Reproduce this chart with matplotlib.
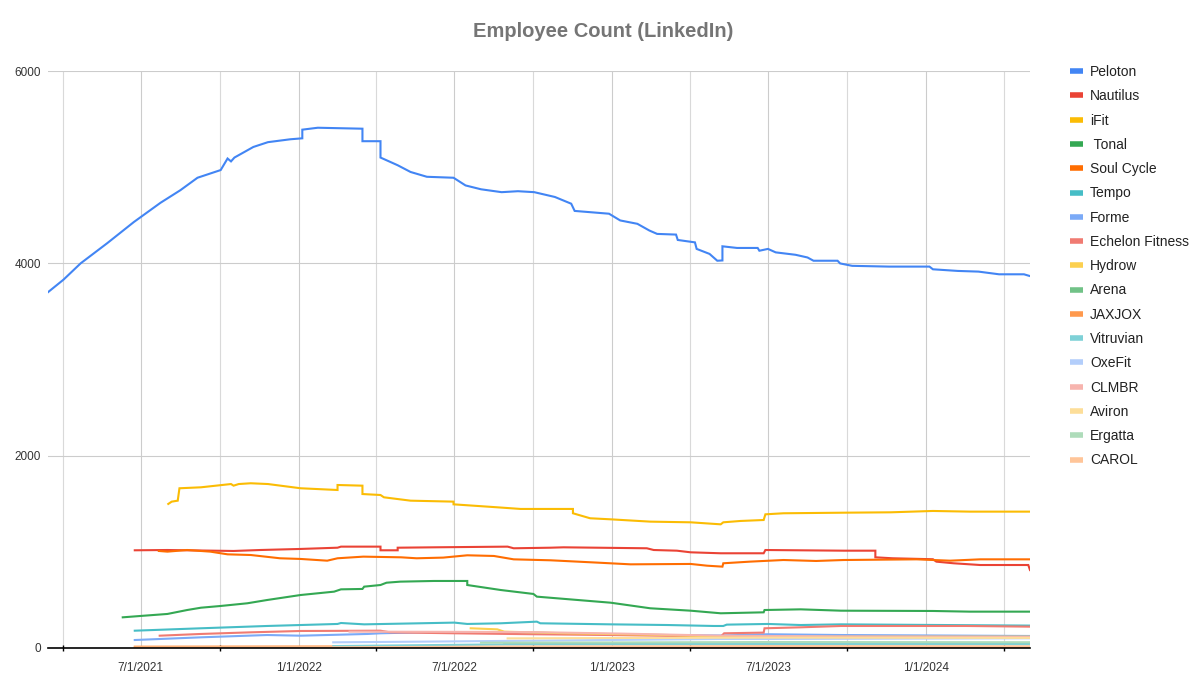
import numpy as np
import pandas as pd
import matplotlib
matplotlib.use('Agg')
import matplotlib.pyplot as plt
import matplotlib.dates as mdates

plt.rcParams['font.family'] = ['Liberation Sans', 'DejaVu Sans']

# series data (repeated dates = step jumps)
peloton_dates = ['2021-03-15', '2021-04-02', '2021-04-22', '2021-05-23', '2021-06-23', '2021-07-24',
                 '2021-08-16', '2021-09-05', '2021-10-02', '2021-10-10', '2021-10-14', '2021-10-18',
                 '2021-11-09', '2021-11-26', '2021-12-22', '2022-01-05', '2022-01-05', '2022-01-23',
                 '2022-03-16', '2022-03-16', '2022-04-06', '2022-04-06', '2022-04-26', '2022-05-11',
                 '2022-05-30', '2022-06-30', '2022-07-14', '2022-08-01', '2022-08-25', '2022-09-13',
                 '2022-10-02', '2022-10-26', '2022-11-14', '2022-11-18', '2022-12-28', '2023-01-10',
                 '2023-01-30', '2023-02-13', '2023-02-22', '2023-03-16', '2023-03-18', '2023-04-07',
                 '2023-04-09', '2023-04-24', '2023-05-03', '2023-05-09', '2023-05-09', '2023-05-26',
                 '2023-06-19', '2023-06-21', '2023-07-01', '2023-07-10', '2023-08-02', '2023-08-16',
                 '2023-08-23', '2023-09-20', '2023-09-23', '2023-10-07', '2023-11-19', '2024-01-05',
                 '2024-01-09', '2024-02-07', '2024-03-02', '2024-03-26', '2024-04-24', '2024-04-30']
peloton_vals = [3700, 3830, 4000, 4210, 4430, 4630,
                4760, 4890, 4970, 5090, 5060, 5100,
                5210, 5260, 5290, 5300, 5390, 5410,
                5400, 5270, 5270, 5100, 5020, 4950,
                4900, 4890, 4810, 4770, 4740, 4750,
                4740, 4690, 4620, 4545, 4516, 4446,
                4411, 4341, 4306, 4299, 4243, 4218,
                4150, 4098, 4027, 4030, 4177, 4160,
                4160, 4131, 4150, 4114, 4089, 4061,
                4027, 4027, 3999, 3974, 3966, 3966,
                3938, 3921, 3914, 3886, 3886, 3870]

nautilus_dates = ['2021-06-24', '2021-08-01', '2021-10-17', '2021-11-17', '2022-01-03', '2022-02-15',
                  '2022-02-19', '2022-04-06', '2022-04-06', '2022-04-26', '2022-04-26', '2022-06-07',
                  '2022-09-01', '2022-09-08', '2022-10-21', '2022-11-05', '2023-02-10', '2023-02-18',
                  '2023-03-17', '2023-04-02', '2023-05-07', '2023-06-26', '2023-06-28', '2023-09-27',
                  '2023-11-03', '2023-11-03', '2023-11-23', '2024-01-09', '2024-01-13', '2024-02-02',
                  '2024-03-04', '2024-04-29', '2024-05-01']
nautilus_vals = [1016, 1019, 1009, 1019, 1030, 1043,
                 1054, 1054, 1016, 1016, 1043, 1047,
                 1054, 1037, 1043, 1047, 1037, 1019,
                 1012, 995, 985, 985, 1019, 1012,
                 1012, 943, 933, 923, 898, 881,
                 863, 863, 811]

ifit_dates = ['2021-08-02', '2021-08-06', '2021-08-13', '2021-08-15', '2021-09-09', '2021-10-14',
              '2021-10-17', '2021-10-23', '2021-11-06', '2021-11-26', '2022-01-03', '2022-02-15',
              '2022-02-15', '2022-03-16', '2022-03-16', '2022-04-06', '2022-04-10', '2022-05-11',
              '2022-06-30', '2022-06-30', '2022-08-20', '2022-09-16', '2022-11-16', '2022-11-16',
              '2022-12-06', '2022-12-30', '2023-02-14', '2023-04-02', '2023-05-07', '2023-05-10',
              '2023-05-30', '2023-06-26', '2023-06-28', '2023-07-19', '2023-09-27', '2023-11-21',
              '2024-01-09', '2024-02-21', '2024-04-30']
ifit_vals = [1498, 1522, 1532, 1661, 1671, 1705,
             1688, 1705, 1713, 1705, 1661, 1643,
             1695, 1688, 1601, 1591, 1567, 1532,
             1522, 1494, 1463, 1446, 1446, 1401,
             1349, 1338, 1314, 1307, 1286, 1307,
             1321, 1331, 1390, 1401, 1407, 1411,
             1425, 1418, 1418]

tonal_dates = ['2021-06-10', '2021-07-05', '2021-08-01', '2021-08-24', '2021-09-09', '2021-10-02',
               '2021-11-02', '2021-11-25', '2022-01-03', '2022-02-11', '2022-02-19', '2022-03-16',
               '2022-03-18', '2022-04-06', '2022-04-13', '2022-04-29', '2022-06-07', '2022-07-16',
               '2022-07-16', '2022-08-24', '2022-10-01', '2022-10-05', '2022-12-30', '2023-02-14',
               '2023-04-02', '2023-05-07', '2023-06-26', '2023-06-27', '2023-08-08', '2023-09-24',
               '2024-01-09', '2024-02-21', '2024-04-30']
tonal_vals = [319, 336, 354, 395, 419, 437,
              465, 499, 551, 586, 610, 614,
              638, 655, 679, 690, 697, 697,
              655, 603, 562, 534, 471, 413,
              388, 361, 371, 395, 402, 388,
              385, 378, 378]

soulcycle_dates = ['2021-07-22', '2021-08-01', '2021-08-24', '2021-09-20', '2021-10-10', '2021-11-06',
                   '2021-12-10', '2022-01-03', '2022-02-03', '2022-02-15', '2022-03-17', '2022-04-30',
                   '2022-05-18', '2022-06-18', '2022-07-16', '2022-08-16', '2022-09-08', '2022-10-21',
                   '2022-12-14', '2023-01-22', '2023-04-02', '2023-04-21', '2023-05-09', '2023-05-10',
                   '2023-06-10', '2023-07-19', '2023-08-26', '2023-09-27', '2023-12-21', '2024-01-29',
                   '2024-03-04', '2024-04-30']
soulcycle_vals = [1009, 1002, 1019, 1002, 974, 967,
                  933, 926, 908, 933, 950, 943,
                  933, 940, 964, 957, 922, 912,
                  888, 870, 874, 856, 846, 881,
                  898, 915, 905, 915, 922, 908,
                  922, 922]

tempo_dates = ['2021-06-24', '2021-09-09', '2021-11-25', '2022-01-03', '2022-02-15', '2022-02-19',
               '2022-03-18', '2022-05-22', '2022-07-01', '2022-07-16', '2022-08-24', '2022-10-05',
               '2022-10-09', '2022-12-30', '2023-03-06', '2023-04-29', '2023-05-10', '2023-05-14',
               '2023-07-01', '2023-08-08', '2023-09-24', '2024-04-30']
tempo_vals = [180, 205, 229, 239, 250, 260,
              246, 257, 264, 250, 257, 274,
              257, 246, 239, 229, 229, 243,
              250, 239, 246, 233]

forme_dates = ['2021-06-24', '2021-09-09', '2021-11-25', '2022-01-03', '2022-03-22', '2022-04-06',
               '2022-05-22', '2022-10-01', '2022-12-30', '2023-05-07', '2023-07-01', '2023-09-24',
               '2024-04-30']
forme_vals = [83, 111, 135, 128, 146, 153,
              163, 160, 140, 130, 143, 135,
              125]

echelon_dates = ['2021-07-23', '2021-09-09', '2021-11-06', '2022-01-03', '2022-04-06', '2022-04-17',
                 '2022-07-01', '2022-10-01', '2022-12-30', '2023-05-07', '2023-05-11', '2023-06-26',
                 '2023-06-27', '2023-08-08', '2023-09-24', '2024-02-17', '2024-04-30']
echelon_vals = [128, 146, 163, 177, 180, 163,
                153, 143, 135, 118, 153, 160,
                205, 215, 229, 229, 222]

hydrow_dates = ['2022-07-20', '2022-08-20', '2022-08-28', '2022-11-08', '2023-03-06', '2023-05-07',
                '2023-07-01', '2024-04-30']
hydrow_vals = [205, 194, 170, 153, 135, 118, 118, 118]

arena_dates = ['2022-08-28', '2022-12-30', '2023-05-07', '2023-09-24', '2024-04-30']
arena_vals = [45, 50, 48, 52, 50]

jaxjox_dates = ['2021-06-24', '2022-02-10', '2022-08-28', '2023-05-07', '2024-04-30']
jaxjox_vals = [14, 16, 12, 10, 10]

vitruvian_dates = ['2022-02-10', '2022-08-28', '2023-01-15', '2023-07-01', '2024-04-30']
vitruvian_vals = [20, 38, 40, 42, 40]

oxefit_dates = ['2022-02-10', '2022-05-22', '2022-10-01', '2023-05-07', '2023-07-01', '2024-04-30']
oxefit_vals = [59, 66, 76, 94, 94, 101]

clmbr_dates = ['2022-03-01', '2022-07-01', '2022-10-01', '2023-01-10', '2023-05-07', '2023-09-24',
               '2024-04-30']
clmbr_vals = [170, 168, 165, 150, 128, 120, 115]

aviron_dates = ['2022-09-01', '2023-01-10', '2023-07-01', '2024-04-30']
aviron_vals = [100, 104, 108, 105]

ergatta_dates = ['2022-08-01', '2023-01-10', '2023-07-01', '2024-04-30']
ergatta_vals = [55, 58, 62, 60]

carol_dates = ['2021-06-24', '2022-03-01', '2022-10-01', '2023-07-01', '2024-04-30']
carol_vals = [5, 8, 15, 20, 18]

series = [
    ('Peloton', peloton_dates, peloton_vals, '#4285F4'),
    ('Nautilus', nautilus_dates, nautilus_vals, '#EA4335'),
    ('iFit', ifit_dates, ifit_vals, '#FBBC04'),
    (' Tonal', tonal_dates, tonal_vals, '#34A853'),
    ('Soul Cycle', soulcycle_dates, soulcycle_vals, '#FF6D01'),
    ('Tempo', tempo_dates, tempo_vals, '#46BDC6'),
    ('Forme', forme_dates, forme_vals, '#7BAAF7'),
    ('Echelon Fitness', echelon_dates, echelon_vals, '#F07B72'),
    ('Hydrow', hydrow_dates, hydrow_vals, '#FCD04F'),
    ('Arena', arena_dates, arena_vals, '#71C287'),
    ('JAXJOX', jaxjox_dates, jaxjox_vals, '#FF994D'),
    ('Vitruvian', vitruvian_dates, vitruvian_vals, '#7ED1D7'),
    ('OxeFit', oxefit_dates, oxefit_vals, '#B3CEFB'),
    ('CLMBR', clmbr_dates, clmbr_vals, '#F7B4AE'),
    ('Aviron', aviron_dates, aviron_vals, '#FDDE99'),
    ('Ergatta', ergatta_dates, ergatta_vals, '#AEDCBA'),
    ('CAROL', carol_dates, carol_vals, '#FFC599'),
]

fig = plt.figure(figsize=(11.95, 6.95), dpi=100)
ax = fig.add_axes([48/1195, 47/695, 982/1195, 577/695])

for name, d, v, c in series:
    ax.plot(pd.to_datetime(d), v, color=c, lw=1.5, label=name, solid_joinstyle='miter')

ax.set_xlim(pd.Timestamp('2021-03-15'), pd.Timestamp('2024-05-01'))
ax.set_ylim(0, 6000)
ax.set_yticks([0, 2000, 4000, 6000])

ax.xaxis.set_major_locator(mdates.MonthLocator(bymonth=[1, 7]))
ax.xaxis.set_minor_locator(mdates.MonthLocator(bymonth=[4, 10]))
ax.xaxis.set_major_formatter(plt.FuncFormatter(
    lambda x, pos: '{d.month}/{d.day}/{d.year}'.format(d=mdates.num2date(x))))

ax.grid(which='major', axis='both', color='#cccccc', lw=0.8)
ax.grid(which='minor', axis='x', color='#d9d9d9', lw=0.8)
ax.set_axisbelow(True)
for s in ['top', 'right', 'left']:
    ax.spines[s].set_visible(False)
ax.spines['bottom'].set_color('#000000')
ax.spines['bottom'].set_linewidth(1.2)

ax.tick_params(axis='x', which='major', length=0, pad=10, labelsize=8.5, labelcolor='#333333')
ax.tick_params(axis='x', which='minor', length=5, direction='inout', width=1, color='#000000')
ax.tick_params(axis='y', length=0, pad=5, labelsize=8.5, labelcolor='#333333')

fig.text(0.505, 0.955, 'Employee Count (LinkedIn)', ha='center', va='center',
         fontsize=14.5, fontweight='bold', color='#757575')

leg = ax.legend(loc='upper left', bbox_to_anchor=(1070/1195, 1 - 65/695),
                bbox_transform=fig.transFigure, frameon=False, fontsize=10,
                handlelength=0.9, handletextpad=0.55, labelspacing=0.74,
                borderaxespad=0, borderpad=0)
for h in leg.get_lines():
    h.set_linewidth(4)
    h.set_solid_capstyle('butt')
for t in leg.get_texts():
    t.set_color('#222222')

fig.savefig('out.png', dpi=100)
